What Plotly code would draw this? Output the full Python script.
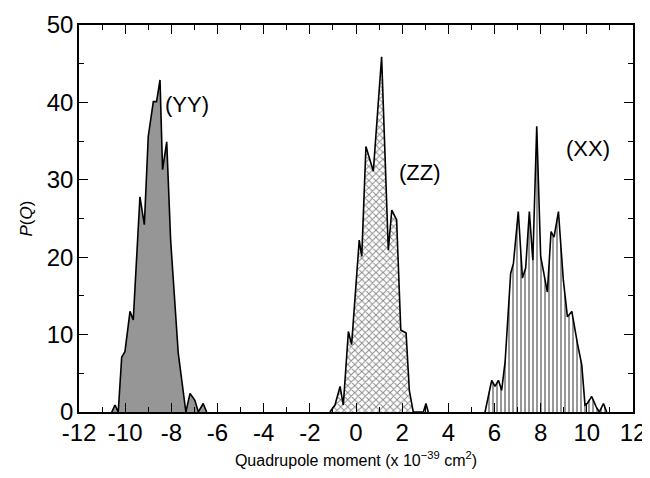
import plotly.graph_objects as go

# YY distribution
yy_q = [-10.58, -10.44, -10.30, -10.15, -10.01, -9.79, -9.65, -9.36, -9.17, -9.00, -8.78, -8.64,
        -8.49, -8.38, -8.20, -8.03, -7.70, -7.48, -7.37, -7.19, -6.98, -6.83, -6.62, -6.47]
yy_p = [0, 0.9, 0, 7.1, 7.8, 13.0, 11.9, 27.8, 24.2, 35.6, 40.1, 40.1,
        42.9, 31.3, 34.9, 22.2, 7.6, 2.4, 0, 2.4, 1.5, 0, 1.1, 0]

# ZZ distribution
zz_q = [-1.13, -0.91, -0.69, -0.55, -0.33, -0.19, 0.14, 0.25, 0.43, 0.61, 0.75, 1.11,
        1.40, 1.55, 1.76, 1.94, 2.17, 2.31, 2.48, 2.92, 3.03, 3.13]
zz_p = [0, 0.9, 3.3, 0.9, 10.4, 8.7, 22.2, 20.1, 34.3, 32.6, 31.1, 45.9,
        20.9, 26.1, 24.8, 10.6, 10.2, 2.8, 0, 0, 1.1, 0]

# XX distribution
xx_q = [5.59, 5.88, 6.02, 6.17, 6.31, 6.46, 6.70, 6.82, 7.03, 7.21, 7.35, 7.51, 7.66, 7.83,
        8.00, 8.29, 8.45, 8.58, 8.77, 8.98, 9.16, 9.35, 9.59, 9.78, 9.92, 10.02, 10.21,
        10.40, 10.54, 10.72, 10.86]
xx_p = [0, 4.1, 3.3, 4.1, 2.8, 6.5, 17.9, 19.2, 25.9, 17.3, 18.6, 25.9, 19.6, 36.9,
        20.1, 15.5, 23.3, 22.6, 25.9, 17.1, 12.3, 13.0, 8.9, 6.1, 0.9, 1.1, 2.0,
        0.7, 0, 1.1, 0]

x_ticks = [-12, -10, -8, -6, -4, -2, 0, 2, 4, 6, 8, 10, 12]
x_ticktext = ["-12", "-10", "-8", "-6", "-4", "-2", "0", "2", "4", "6", "8", "10", "12"]
y_ticks = [0, 10, 20, 30, 40, 50]

labels = ["(YY)", "(ZZ)", "(XX)"]
label_q = [-7.30, 2.77, 10.05]
label_p = [39.7, 31.0, 34.1]

FONT = "Liberation Sans, Arial, sans-serif"

fig = go.Figure()

fig.add_trace(go.Scatter(
    x=yy_q, y=yy_p, mode="lines", fill="tozeroy",
    line=dict(color="black", width=1.6),
    fillcolor="#8a8a8a",
    fillpattern=dict(shape=".", size=2, solidity=0.5, fgcolor="#555555", bgcolor="#a8a8a8"),
    showlegend=False,
))
fig.add_trace(go.Scatter(
    x=zz_q, y=zz_p, mode="lines", fill="tozeroy",
    line=dict(color="black", width=1.6),
    fillpattern=dict(shape="x", size=5, solidity=0.35, fgcolor="#111111", bgcolor="white"),
    showlegend=False,
))
fig.add_trace(go.Scatter(
    x=xx_q, y=xx_p, mode="lines", fill="tozeroy",
    line=dict(color="black", width=1.6),
    fillpattern=dict(shape="|", size=4, solidity=0.4, fgcolor="black", bgcolor="white"),
    showlegend=False,
))

for txt, q, p in zip(labels, label_q, label_p):
    fig.add_annotation(x=q, y=p, text=txt, showarrow=False,
                       font=dict(family=FONT, size=22, color="black"))

axis_common = dict(
    showline=True, linecolor="black", linewidth=1.5, mirror="ticks",
    ticks="inside", ticklen=9, tickwidth=1.3, tickcolor="black",
    showgrid=False, zeroline=False, automargin=False,
    tickfont=dict(family=FONT, size=24, color="black"),
)

fig.update_xaxes(
    range=[-12, 12], tickmode="array", tickvals=x_ticks, ticktext=x_ticktext,
    minor=dict(dtick=1, tick0=-12, ticks="inside", ticklen=5, tickcolor="black", tickwidth=1.2),
    title=dict(text="Quadrupole moment (x 10<sup>−39</sup> cm<sup>2</sup>)",
               font=dict(family=FONT, size=16, color="black"), standoff=10),
    ticklabelstandoff=-2,
    **axis_common,
)
fig.update_yaxes(
    range=[0, 50], tickmode="array", tickvals=y_ticks,
    minor=dict(dtick=5, tick0=0, ticks="inside", ticklen=5, tickcolor="black", tickwidth=1.2),
    title=dict(text="<i>P</i>(<i>Q</i>)", font=dict(family=FONT, size=17, color="black"),
               standoff=10),
    ticklabelstandoff=-1,
    **axis_common,
)

# the page body adds an 8px offset, so the figure is sized to the remaining window
fig.update_layout(
    width=642, height=470,
    margin=dict(l=71, r=17, t=17, b=66),
    plot_bgcolor="white", paper_bgcolor="white",
)

fig.write_html("out.html")
